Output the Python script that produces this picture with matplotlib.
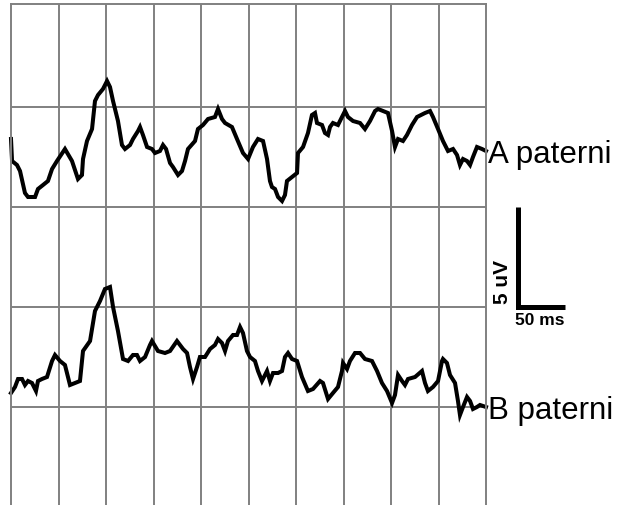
import matplotlib
matplotlib.use("Agg")
import matplotlib.pyplot as plt

# time in ms, amplitude in uV
time_a = [0.0, 1.1, 6.3, 9.5, 14.7, 17.9, 25.3, 28.4, 33.7, 38.9, 43.2, 48.4, 56.8, 64.2, 70.5, 74.7, 75.8, 80.0,
          85.3, 88.4, 91.6, 96.8, 101.1, 104.2, 107.4, 112.6, 116.8, 120.0, 125.3, 128.4, 133.7, 135.8, 138.9, 143.2,
          148.4, 151.6, 156.8, 160.0, 163.2, 167.4, 170.5, 175.8, 180.0, 183.2, 186.3, 193.7, 196.8, 202.1, 207.4,
          214.7, 217.9, 222.1, 225.3, 232.6, 237.9, 244.2, 249.5, 254.7, 260.0, 265.3, 269.5, 272.6, 274.7, 277.9,
          281.1, 285.3, 288.4, 290.5, 295.8, 301.1, 302.1, 307.4, 312.6, 316.8, 320.0, 322.1, 327.4, 330.5, 333.7,
          335.8, 338.9, 344.2, 348.4, 351.6, 354.7, 360.0, 367.4, 372.6, 377.9, 383.2, 386.3, 391.6, 396.8, 401.1,
          404.2, 407.4, 412.6, 416.8, 422.1, 427.4, 435.8, 441.1, 444.2, 449.5, 454.7, 460.0, 465.3, 469.5, 472.6,
          475.8, 480.0, 483.2, 486.3, 490.5, 495.8, 500.0]
amp_a = [18.4, 17.3, 17.1, 16.8, 15.7, 15.5, 15.5, 15.9, 16.1, 16.3, 16.9, 17.3, 17.9, 17.3, 16.4, 16.6, 17.4, 18.3,
         18.9, 20.3, 20.6, 20.9, 21.3, 21.0, 20.3, 19.3, 18.1, 17.9, 18.1, 18.4, 18.8, 19.0, 18.6, 18.0,
         17.9, 17.7, 17.8, 18.1, 17.9, 17.2, 17.0, 16.6, 16.8, 17.3, 17.9, 18.3, 18.9, 19.1, 19.4,
         19.5, 19.9, 19.4, 19.2, 19.0, 18.4, 17.7, 17.4, 18.0, 18.4, 18.3, 17.4, 16.3, 16.0, 15.9,
         15.5, 15.3, 15.6, 16.3, 16.5, 16.7, 17.7, 18.0, 18.7, 19.6, 19.7, 19.2, 19.1, 18.7, 18.6,
         19.0, 19.2, 19.1, 19.5, 19.8, 19.5, 19.3, 19.2, 18.9, 19.3, 19.8, 19.9, 19.8, 19.7, 18.8,
         18.0, 18.4, 18.3, 18.6, 19.1, 19.5, 19.7, 19.8, 19.5, 18.9, 18.3, 17.8, 17.9, 17.6, 17.1,
         17.4, 17.3, 17.1, 17.5, 18.0, 17.9, 17.8]

time_b = [0.0, 4.2, 7.4, 11.6, 14.7, 17.9, 22.1, 26.3, 28.4, 32.6, 37.9, 43.2, 46.3, 51.6, 56.8, 62.1, 67.4, 72.6,
          75.8, 83.2, 88.4, 93.7, 98.9, 104.2, 107.4, 112.6, 117.9, 123.2, 128.4, 132.6, 135.8, 141.1, 146.3, 148.4,
          154.7, 162.1, 167.4, 174.7, 181.1, 185.3, 188.4, 191.6, 195.8, 198.9, 204.2, 209.5, 214.7, 217.9, 222.1,
          225.3, 228.4, 233.7, 237.9, 241.1, 244.2, 248.4, 251.6, 256.8, 260.0, 264.2, 269.5, 272.6, 275.8, 281.1,
          285.3, 288.4, 291.6, 295.8, 301.1, 306.3, 312.6, 317.9, 325.3, 328.4, 333.7, 338.9, 344.2, 348.4, 349.5,
          353.7, 356.8, 362.1, 367.4, 372.6, 380.0, 385.3, 390.5, 395.8, 401.1, 404.2, 407.4, 411.6, 414.7, 417.9,
          425.3, 432.6, 435.8, 438.9, 444.2, 449.5, 453.7, 454.7, 458.9, 462.1, 467.4, 470.5, 472.6, 475.8, 480.0,
          483.2, 486.3, 490.5, 493.7, 500.0]
amp_b = [5.7, 6.0, 6.4, 6.4, 6.1, 6.3, 6.2, 5.8, 6.3, 6.4, 6.5, 7.3, 7.6, 7.3, 7.1, 6.1, 6.2, 6.3,
         7.8, 8.3, 9.8, 10.3, 10.9, 11.0, 10.0, 8.8, 7.4, 7.3, 7.6, 7.6, 7.3, 7.5, 8.1, 8.3,
         7.8, 7.7, 7.8, 8.3, 7.9, 7.7, 7.0, 6.4, 7.0, 7.5, 7.5, 7.9, 8.1, 8.4, 8.2,
         7.8, 8.3, 8.6, 8.6, 9.0, 8.7, 7.8, 7.5, 7.3, 6.8, 6.3, 6.8, 6.3, 6.7, 6.7,
         6.8, 7.5, 7.7, 7.4, 7.3, 6.5, 5.8, 5.9, 6.3, 6.2, 5.4, 5.7, 6.0, 6.8, 7.2,
         6.9, 7.3, 7.7, 7.7, 7.4, 7.3, 6.8, 6.2, 5.8, 5.2, 5.6, 6.6, 6.3, 6.1, 6.4,
         6.5, 6.8, 6.2, 5.8, 6.0, 6.3, 7.3, 7.4, 7.2, 6.6, 6.2, 5.3, 4.6, 5.0, 5.5,
         5.3, 4.9, 5.0, 5.1, 5.0]

labels = ["A paterni", "B paterni"]
scale_ms = 50
scale_uv = 5

fig = plt.figure(figsize=(6.19, 5.06), dpi=100)
ax = fig.add_axes([11 / 619, 0.0, 475 / 619, 501 / 506])
ax.set_xlim(0, 500)
ax.set_ylim(0.1, 25.15)

grid_col = "#808080"
ax.set_xticks(range(50, 500, 50))
ax.set_yticks([5, 10, 15, 20])
ax.grid(True, color=grid_col, linewidth=1.4)
ax.tick_params(length=0, labelbottom=False, labelleft=False)
for side in ["left", "right", "top"]:
    ax.spines[side].set_color(grid_col)
    ax.spines[side].set_linewidth(1.4)
ax.spines["bottom"].set_visible(False)

ax.plot(time_a, amp_a, color="black", linewidth=2.9, solid_joinstyle="miter", clip_on=False)
ax.plot(time_b, amp_b, color="black", linewidth=2.9, solid_joinstyle="miter", clip_on=False)

ax.text(502, 17.25, labels[0], fontsize=22.5, family="Liberation Sans", va="baseline", ha="left", clip_on=False)
ax.text(502, 4.45, labels[1], fontsize=22.5, family="Liberation Sans", va="baseline", ha="left", clip_on=False)

# scale bar
x0, y0 = 533.5, 10.0
ax.plot([x0, x0, x0 + scale_ms], [y0 + scale_uv, y0, y0], color="black", linewidth=3.6,
        solid_joinstyle="miter", solid_capstyle="butt", clip_on=False)
ax.text(517, y0 + 1.3, f"{scale_uv} uV", rotation=90, fontsize=15, fontweight="bold",
        family="Liberation Sans", ha="center", va="center", clip_on=False)
ax.text(530, 9.35, f"{scale_ms} ms", fontsize=12.5, fontweight="bold",
        family="Liberation Sans", ha="left", va="center", clip_on=False)

fig.savefig("out.png", dpi=100)
